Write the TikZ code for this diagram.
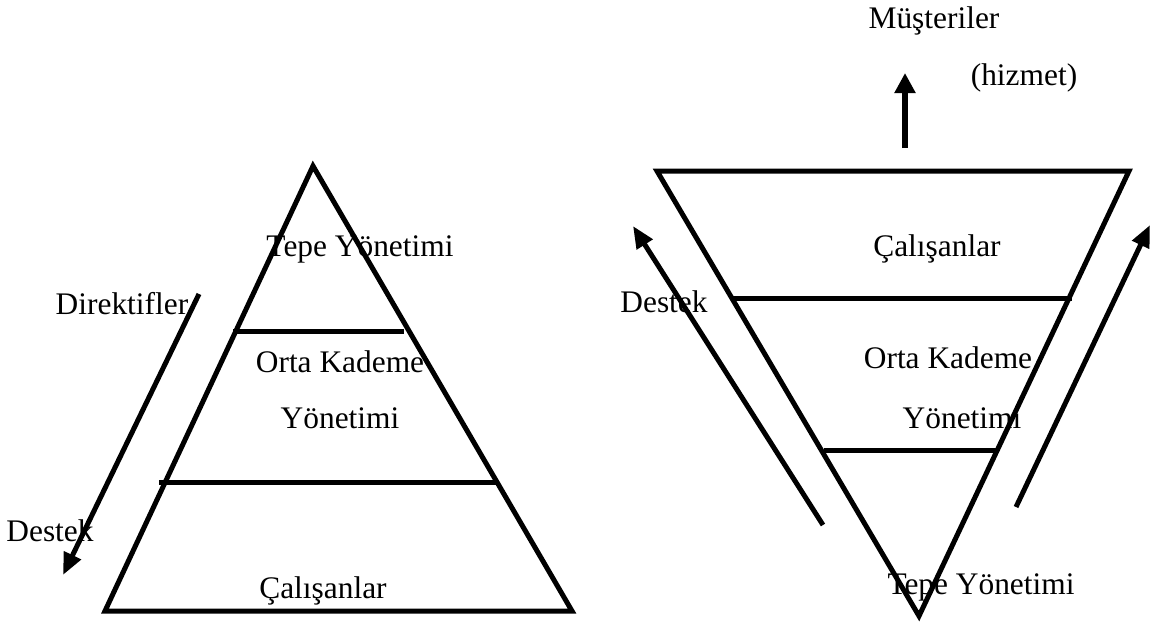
\documentclass[tikz,border=0pt]{standalone}
\usepackage{fontspec}
\setmainfont{Liberation Serif}
\usetikzlibrary{arrows.meta}
\begin{document}
\begin{tikzpicture}[x=1pt,y=-1pt,
  outline/.style={line width=5pt, line join=miter},
  divider/.style={line width=5pt},
  flow/.style={line width=5pt, -{Triangle[length=22pt,width=18pt]}},
  lbl/.style={font=\fontsize{31.4}{36}\selectfont, inner sep=0pt, anchor=base}]
\useasboundingbox (0,0) rectangle (1161,629);

% ---- classical pyramid ----
\coordinate (LA) at (313,166);
\coordinate (LBL) at (105,611);
\coordinate (LBR) at (572,611);
\draw[outline] (LA) -- (LBL) -- (LBR) -- cycle;
\coordinate (LU1) at (233,331);
\coordinate (LU2) at (404,331);
\coordinate (LD1) at (159,482);
\coordinate (LD2) at (497,482);
\draw[divider] (LU1) -- (LU2);
\draw[divider] (LD1) -- (LD2);

\node[lbl] (ltop) at (360,256) {Tepe Yönetimi};
\node[lbl] (lmid1) at (340,372) {Orta Kademe};
\node[lbl] (lmid2) at (340,428) {Yönetimi};
\node[lbl] (lbot) at (323,598) {Çalışanlar};
\node[lbl] (ldir) at (122,314) {Direktifler};
\node[lbl] (ldes) at (50,541) {Destek};

\coordinate (LArS) at (199,294);
\coordinate (LArE) at (63,575);
\draw[flow] (LArS) -- (LArE);

% ---- inverted pyramid ----
\coordinate (RTL) at (657,171);
\coordinate (RTR) at (1129,171);
\coordinate (RA) at (919,616);
\draw[outline] (RTL) -- (RTR) -- (RA) -- cycle;
\coordinate (RU1) at (732,298);
\coordinate (RU2) at (1072,298);
\coordinate (RD1) at (824,450);
\coordinate (RD2) at (998,450);
\draw[divider] (RU1) -- (RU2);
\draw[divider] (RD1) -- (RD2);

\node[lbl] (rcus) at (934,28) {Müşteriler};
\node[lbl] (rsrv) at (1024,85) {(hizmet)};
\node[lbl] (rtop) at (937,256) {Çalışanlar};
\node[lbl] (rmid1) at (948,368) {Orta Kademe};
\node[lbl] (rmid2) at (962,428) {Yönetimi};
\node[lbl] (rbot) at (981,594) {Tepe Yönetimi};
\node[lbl] (rdes) at (664,312) {Destek};

\coordinate (RUpS) at (905,148);
\coordinate (RUpE) at (905,73);
\draw[line width=6pt, -{Triangle[length=20pt,width=20pt]}] (RUpS) -- (RUpE);

\coordinate (RLArS) at (823,525);
\coordinate (RLArE) at (633,226);
\draw[flow] (RLArS) -- (RLArE);
\coordinate (RRArS) at (1016,507);
\coordinate (RRArE) at (1150,225);
\draw[flow] (RRArS) -- (RRArE);
\end{tikzpicture}
\end{document}
